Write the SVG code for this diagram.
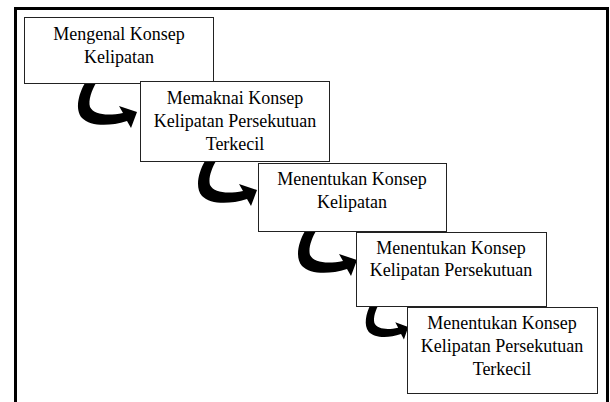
<svg xmlns="http://www.w3.org/2000/svg" width="610" height="402" viewBox="0 0 610 402">
<defs>
<style>
.box{fill:#fff;stroke:#222;stroke-width:1}
.t{font-size:18px;fill:#000;text-anchor:middle}
.arr{fill:#000}
</style>
<path id="curl" d="M15 3 C8 15 5 30 12 38 C20 46 38 47 57 41 L61 48 L67 32 L49 26 L53 33 C38 36 24 35 20 27 C18 20 22 10 26 3 Z"/>
</defs>
<rect x="0" y="0" width="610" height="402" fill="#fff"/>
<rect x="15.5" y="8.5" width="592" height="400" fill="none" stroke="#000" stroke-width="3"/>
<g id="connectors">
<use href="#curl" class="arr" x="70" y="80"/>
<use href="#curl" class="arr" x="190" y="158"/>
<use href="#curl" class="arr" x="290" y="228"/>
<use href="#curl" class="arr" transform="translate(360 302) scale(0.72 0.78)"/>
</g>
<g font-family="Liberation Serif, DejaVu Serif, serif">
<g id="n1">
<rect class="box" x="24.5" y="17.5" width="189" height="66"/>
<text class="t" x="119" y="40">Mengenal Konsep</text>
<text class="t" x="119" y="63">Kelipatan</text>
</g>
<g id="n2">
<rect class="box" x="140.5" y="81.5" width="189" height="80"/>
<text class="t" x="235" y="104">Memaknai Konsep</text>
<text class="t" x="235" y="127">Kelipatan Persekutuan</text>
<text class="t" x="235" y="150">Terkecil</text>
</g>
<g id="n3">
<rect class="box" x="258.5" y="163.5" width="188" height="68"/>
<text class="t" x="352" y="185">Menentukan Konsep</text>
<text class="t" x="352" y="208">Kelipatan</text>
</g>
<g id="n4">
<rect class="box" x="356.5" y="232.5" width="190" height="74"/>
<text class="t" x="451" y="254">Menentukan Konsep</text>
<text class="t" x="451" y="276">Kelipatan Persekutuan</text>
</g>
<g id="n5">
<rect class="box" x="407.5" y="307.5" width="190" height="86"/>
<text class="t" x="502" y="329">Menentukan Konsep</text>
<text class="t" x="502" y="352">Kelipatan Persekutuan</text>
<text class="t" x="502" y="375">Terkecil</text>
</g>
</g>
</svg>
